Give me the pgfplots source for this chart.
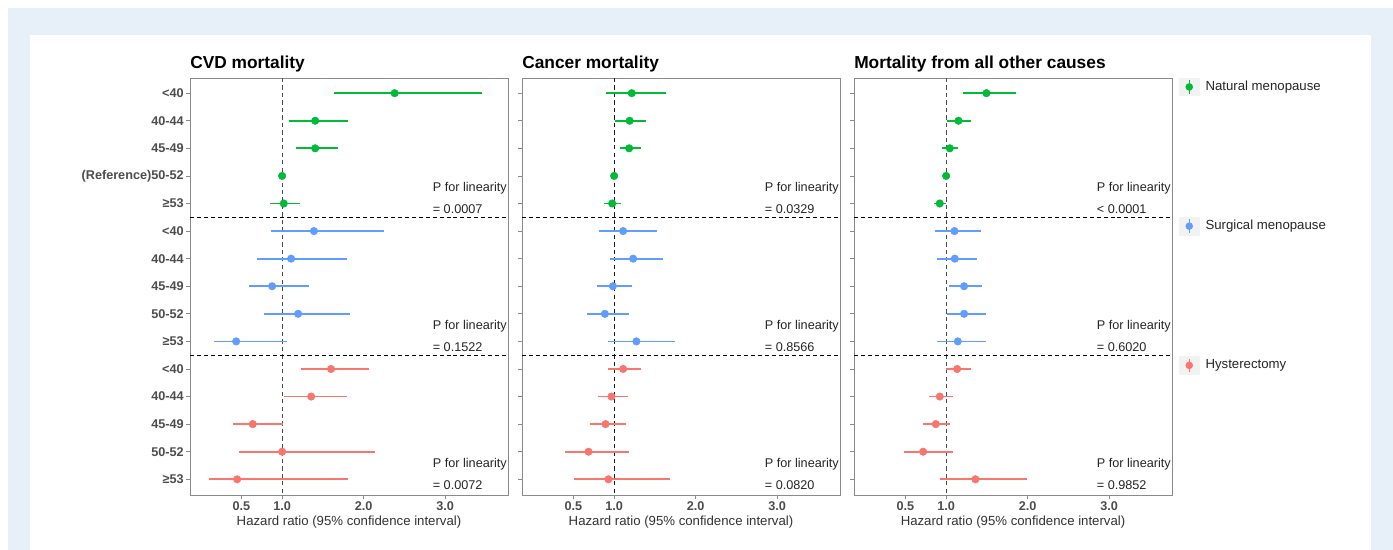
\documentclass[border=0pt]{standalone}
\usepackage{fontspec}
\setmainfont{Liberation Sans}
\usepackage{pgfplots}
\usepackage{pgfplotstable}
\pgfplotsset{compat=1.18}
\definecolor{natgreen}{HTML}{00BA38}
\definecolor{surgblue}{HTML}{619CFF}
\definecolor{hystred}{HTML}{F8766D}
\definecolor{pagebg}{HTML}{E7EFF9}
\definecolor{axgrey}{HTML}{8A8A8A}
\definecolor{labgrey}{HTML}{4D4D4D}

% row hr lo hi  (rows 1-5 natural, 6-10 surgical, 11-15 hysterectomy)
\pgfplotstableread{
row hr lo hi
1 2.38 1.64 3.45
2 1.405 1.086 1.81
3 1.405 1.17 1.68
4 1.00 1.00 1.00
5 1.02 0.85 1.22
6 1.39 0.865 2.25
7 1.11 0.69 1.80
8 0.877 0.59 1.33
9 1.196 0.78 1.835
10 0.436 0.17 1.06
11 1.60 1.23 2.07
12 1.356 1.025 1.80
13 0.64 0.395 1.016
14 1.00 0.476 2.14
15 0.448 0.104 1.81
}\cvd
\pgfplotstableread{
row hr lo hi
1 1.216 0.902 1.633
2 1.19 1.016 1.396
3 1.184 1.073 1.327
4 1.00 1.00 1.00
5 0.976 0.878 1.08
6 1.11 0.81 1.527
7 1.233 0.951 1.60
8 0.984 0.788 1.224
9 0.886 0.661 1.18
10 1.273 0.93 1.751
11 1.11 0.927 1.327
12 0.967 0.796 1.167
13 0.894 0.702 1.143
14 0.686 0.396 1.18
15 0.93 0.51 1.68
}\cancer
\pgfplotstableread{
row hr lo hi
1 1.494 1.208 1.861
2 1.151 1.016 1.31
3 1.045 0.955 1.147
4 1.00 1.00 1.00
5 0.922 0.849 0.996
6 1.102 0.861 1.424
7 1.106 0.886 1.38
8 1.22 1.04 1.437
9 1.22 1.012 1.486
10 1.143 0.882 1.486
11 1.135 1.004 1.31
12 0.922 0.788 1.086
13 0.873 0.718 1.049
14 0.718 0.482 1.086
15 1.359 0.93 1.992
}\other

\newcommand{\lab}{\fontsize{9.5}{11}\selectfont}
\newcommand{\labl}{\fontsize{9.9}{11.5}\selectfont}
\pgfplotsset{
 panel/.style={
  scale only axis, width=238.5pt, height=312.75pt, anchor=north west,
  xmin=-0.13, xmax=3.77, ymin=0.45, ymax=15.57, y dir=reverse,
  xtick={0.5,1,2,3}, xticklabels={0.5,1.0,2.0,3.0},
  ytick={1,...,15},
  tick align=outside, xtick pos=bottom, ytick pos=left,
  major tick length=3pt, tick style={axgrey, line width=0.6pt},
  axis line style={axgrey, line width=0.65pt},
  ticklabel style={font=\lab\bfseries, text=labgrey, inner sep=1.5pt},
  xlabel={Hazard ratio (95\% confidence interval)},
  xlabel style={at={(axis description cs:0.5,0)}, anchor=center, yshift=-20.25pt,
   font=\labl, text=black!80},
  title style={at={(axis description cs:0,1)}, anchor=south west, inner sep=0pt,
   yshift=-2pt, font=\fontsize{13}{15}\selectfont\bfseries},
  clip=false,
 },
 hr/.style={only marks, mark=*, mark size=2.8pt, color=#1,
  mark options={draw=none, fill=#1},
  error bars/x dir=both, error bars/x explicit, error bars/error mark=none,
  error bars/error bar style={line width=1.3pt, #1}},
 table/ci/.style={x=hr, y=row,
  x error plus expr=\thisrow{hi}-\thisrow{hr},
  x error minus expr=\thisrow{hr}-\thisrow{lo}},
}
\tikzset{
 sep/.style={black, line width=0.75pt, dash pattern=on 3pt off 2.2pt},
 ptext/.style={anchor=west, inner sep=0pt, font=\lab, text=black!85},
}
\newcommand{\panelbody}[5]{%
 \draw[#2, line width=0.95pt, dash pattern=on 3.2pt off 2.4pt] (axis cs:1,0.45) -- (axis cs:1,15.57);
 \draw[sep] (axis cs:-0.13,5.5) -- (axis cs:3.77,5.5);
 \draw[sep] (axis cs:-0.13,10.5) -- (axis cs:3.77,10.5);
 \addplot[restrict y to domain=1:5, hr=natgreen] table[ci] {#1};
 \addplot[restrict y to domain=6:10, hr=surgblue] table[ci] {#1};
 \addplot[restrict y to domain=11:15, hr=hystred] table[ci] {#1};
 \node[ptext] at (axis cs:2.845,4.45) {P for linearity};
 \node[ptext] at (axis cs:2.845,5.22) {#3};
 \node[ptext] at (axis cs:2.845,9.45) {P for linearity};
 \node[ptext] at (axis cs:2.845,10.22) {#4};
 \node[ptext] at (axis cs:2.845,14.45) {P for linearity};
 \node[ptext] at (axis cs:2.845,15.22) {#5};
}

\begin{document}
\begin{tikzpicture}
\fill[white] (0pt,0pt) rectangle (1044.75pt,-412.5pt);
\fill[pagebg] (6pt,-6pt) rectangle (1044.75pt,-412.5pt);
\fill[white] (22.5pt,-26.25pt) rectangle (1028.25pt,-412.5pt);

\begin{axis}[panel, at={(142.5pt,-58.5pt)}, title={CVD mortality},
 yticklabels={<40,40-44,45-49,(Reference)50-52,≥53,<40,40-44,45-49,50-52,≥53,<40,40-44,45-49,50-52,≥53}]
\panelbody{\cvd}{black!70}{= 0.0007}{= 0.1522}{= 0.0072}
\end{axis}

\begin{axis}[panel, at={(391.5pt,-58.5pt)}, title={Cancer mortality}, yticklabels={}]
\panelbody{\cancer}{black!90}{= 0.0329}{= 0.8566}{= 0.0820}
\end{axis}

\begin{axis}[panel, at={(640.5pt,-58.5pt)}, title={Mortality from all other causes}, yticklabels={},
 legend style={at={(1,1)}, anchor=north west, xshift=5.25pt, draw=none, fill=none,
  inner sep=0pt, outer sep=0pt, row sep=91pt, column sep=4.5pt,
  nodes={inner sep=0pt, font=\labl, text=black!85}},
 legend cell align=left,
 legend image code/.code={
  \fill[black!5] (0pt,-6.5pt) rectangle (15pt,6.5pt);
  \draw[line width=1.1pt] (7.5pt,-5pt) -- (7.5pt,5pt);
  \fill (7.5pt,0pt) circle (2.6pt);
 }]
\panelbody{\other}{black!70}{< 0.0001}{= 0.6020}{= 0.9852}
\legend{Natural menopause, Surgical menopause, Hysterectomy}
\end{axis}
\end{tikzpicture}
\end{document}
